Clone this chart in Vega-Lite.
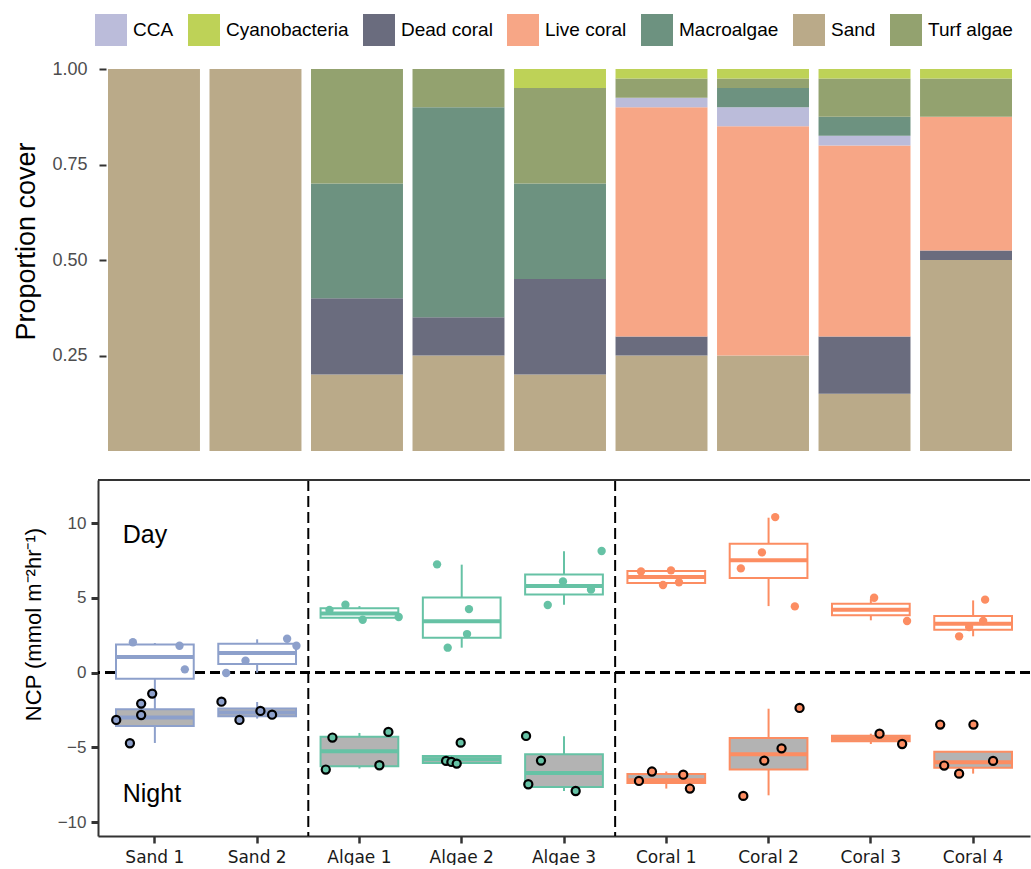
{
  "$schema": "https://vega.github.io/schema/vega-lite/v6.json",
  "background": "white",
  "padding": {"left": 12, "top": 14, "right": 0, "bottom": 0},
  "config": {
    "view": {"stroke": null},
    "axis": {"grid": false},
    "concat": {"spacing": 28}
  },
  "datasets": {
    "cover": [
      {"site": "Sand 1", "cover": "Sand", "p": 1.0},
      {"site": "Sand 2", "cover": "Sand", "p": 1.0},
      {"site": "Algae 1", "cover": "Sand", "p": 0.2},
      {"site": "Algae 1", "cover": "Dead coral", "p": 0.2},
      {"site": "Algae 1", "cover": "Macroalgae", "p": 0.3},
      {"site": "Algae 1", "cover": "Turf algae", "p": 0.3},
      {"site": "Algae 2", "cover": "Sand", "p": 0.25},
      {"site": "Algae 2", "cover": "Dead coral", "p": 0.1},
      {"site": "Algae 2", "cover": "Macroalgae", "p": 0.55},
      {"site": "Algae 2", "cover": "Turf algae", "p": 0.1},
      {"site": "Algae 3", "cover": "Sand", "p": 0.2},
      {"site": "Algae 3", "cover": "Dead coral", "p": 0.25},
      {"site": "Algae 3", "cover": "Macroalgae", "p": 0.25},
      {"site": "Algae 3", "cover": "Turf algae", "p": 0.25},
      {"site": "Algae 3", "cover": "Cyanobacteria", "p": 0.05},
      {"site": "Coral 1", "cover": "Sand", "p": 0.25},
      {"site": "Coral 1", "cover": "Dead coral", "p": 0.05},
      {"site": "Coral 1", "cover": "Live coral", "p": 0.6},
      {"site": "Coral 1", "cover": "CCA", "p": 0.025},
      {"site": "Coral 1", "cover": "Turf algae", "p": 0.05},
      {"site": "Coral 1", "cover": "Cyanobacteria", "p": 0.025},
      {"site": "Coral 2", "cover": "Sand", "p": 0.25},
      {"site": "Coral 2", "cover": "Live coral", "p": 0.6},
      {"site": "Coral 2", "cover": "CCA", "p": 0.05},
      {"site": "Coral 2", "cover": "Macroalgae", "p": 0.05},
      {"site": "Coral 2", "cover": "Turf algae", "p": 0.025},
      {"site": "Coral 2", "cover": "Cyanobacteria", "p": 0.025},
      {"site": "Coral 3", "cover": "Sand", "p": 0.15},
      {"site": "Coral 3", "cover": "Dead coral", "p": 0.15},
      {"site": "Coral 3", "cover": "Live coral", "p": 0.5},
      {"site": "Coral 3", "cover": "CCA", "p": 0.025},
      {"site": "Coral 3", "cover": "Macroalgae", "p": 0.05},
      {"site": "Coral 3", "cover": "Turf algae", "p": 0.1},
      {"site": "Coral 3", "cover": "Cyanobacteria", "p": 0.025},
      {"site": "Coral 4", "cover": "Sand", "p": 0.5},
      {"site": "Coral 4", "cover": "Dead coral", "p": 0.025},
      {"site": "Coral 4", "cover": "Live coral", "p": 0.35},
      {"site": "Coral 4", "cover": "Turf algae", "p": 0.1},
      {"site": "Coral 4", "cover": "Cyanobacteria", "p": 0.025}
    ],
    "boxes": [
      {"site": "Sand 1", "group": "Sand", "period": "Day", "lo": -1.45, "q1": -0.4, "med": 1.05, "q3": 1.89, "hi": 1.98},
      {"site": "Sand 1", "group": "Sand", "period": "Night", "lo": -4.7, "q1": -3.56, "med": -3.0, "q3": -2.45, "hi": -1.45},
      {"site": "Sand 2", "group": "Sand", "period": "Day", "lo": 0.0, "q1": 0.58, "med": 1.31, "q3": 1.94, "hi": 2.23},
      {"site": "Sand 2", "group": "Sand", "period": "Night", "lo": -3.07, "q1": -2.92, "med": -2.67, "q3": -2.4, "hi": -1.96},
      {"site": "Algae 1", "group": "Algae", "period": "Day", "lo": 3.54, "q1": 3.67, "med": 3.96, "q3": 4.3, "hi": 4.45},
      {"site": "Algae 1", "group": "Algae", "period": "Night", "lo": -6.41, "q1": -6.26, "med": -5.26, "q3": -4.28, "hi": -4.03},
      {"site": "Algae 2", "group": "Algae", "period": "Day", "lo": 1.67, "q1": 2.34, "med": 3.43, "q3": 5.03, "hi": 7.22},
      {"site": "Algae 2", "group": "Algae", "period": "Night", "lo": -6.08, "q1": -6.04, "med": -5.79, "q3": -5.57, "hi": -5.57},
      {"site": "Algae 3", "group": "Algae", "period": "Day", "lo": 4.54, "q1": 5.23, "med": 5.79, "q3": 6.57, "hi": 8.11},
      {"site": "Algae 3", "group": "Algae", "period": "Night", "lo": -7.91, "q1": -7.64, "med": -6.7, "q3": -5.46, "hi": -4.25},
      {"site": "Coral 1", "group": "Coral", "period": "Day", "lo": 5.86, "q1": 5.99, "med": 6.39, "q3": 6.79, "hi": 6.84},
      {"site": "Coral 1", "group": "Coral", "period": "Night", "lo": -7.75, "q1": -7.37, "med": -7.19, "q3": -6.77, "hi": -6.61},
      {"site": "Coral 2", "group": "Coral", "period": "Day", "lo": 4.45, "q1": 6.33, "med": 7.51, "q3": 8.62, "hi": 10.36},
      {"site": "Coral 2", "group": "Coral", "period": "Night", "lo": -8.2, "q1": -6.48, "med": -5.46, "q3": -4.37, "hi": -2.41},
      {"site": "Coral 3", "group": "Coral", "period": "Day", "lo": 3.5, "q1": 3.83, "med": 4.21, "q3": 4.61, "hi": 4.95},
      {"site": "Coral 3", "group": "Coral", "period": "Night", "lo": -4.77, "q1": -4.59, "med": -4.41, "q3": -4.21, "hi": -4.08},
      {"site": "Coral 4", "group": "Coral", "period": "Day", "lo": 2.43, "q1": 2.87, "med": 3.27, "q3": 3.78, "hi": 4.83},
      {"site": "Coral 4", "group": "Coral", "period": "Night", "lo": -6.75, "q1": -6.35, "med": -5.99, "q3": -5.28, "hi": -5.28}
    ],
    "ncp": [
      {"site": "Sand 1", "group": "Sand", "period": "Day", "ncp": 2.03, "jitter": -0.215},
      {"site": "Sand 1", "group": "Sand", "period": "Day", "ncp": 1.8, "jitter": 0.241},
      {"site": "Sand 1", "group": "Sand", "period": "Day", "ncp": 0.22, "jitter": 0.293},
      {"site": "Sand 1", "group": "Sand", "period": "Night", "ncp": -3.16, "jitter": -0.378},
      {"site": "Sand 1", "group": "Sand", "period": "Night", "ncp": -4.72, "jitter": -0.244},
      {"site": "Sand 1", "group": "Sand", "period": "Night", "ncp": -2.07, "jitter": -0.134},
      {"site": "Sand 1", "group": "Sand", "period": "Night", "ncp": -2.83, "jitter": -0.134},
      {"site": "Sand 1", "group": "Sand", "period": "Night", "ncp": -1.4, "jitter": -0.026},
      {"site": "Sand 2", "group": "Sand", "period": "Day", "ncp": 2.27, "jitter": 0.293},
      {"site": "Sand 2", "group": "Sand", "period": "Day", "ncp": 1.8, "jitter": 0.384},
      {"site": "Sand 2", "group": "Sand", "period": "Day", "ncp": 0.8, "jitter": -0.114},
      {"site": "Sand 2", "group": "Sand", "period": "Day", "ncp": -0.02, "jitter": -0.303},
      {"site": "Sand 2", "group": "Sand", "period": "Night", "ncp": -1.94, "jitter": -0.349},
      {"site": "Sand 2", "group": "Sand", "period": "Night", "ncp": -3.16, "jitter": -0.173},
      {"site": "Sand 2", "group": "Sand", "period": "Night", "ncp": -2.56, "jitter": 0.032},
      {"site": "Sand 2", "group": "Sand", "period": "Night", "ncp": -2.81, "jitter": 0.146},
      {"site": "Algae 1", "group": "Algae", "period": "Day", "ncp": 4.19, "jitter": -0.293},
      {"site": "Algae 1", "group": "Algae", "period": "Day", "ncp": 4.54, "jitter": -0.137},
      {"site": "Algae 1", "group": "Algae", "period": "Day", "ncp": 3.54, "jitter": 0.032},
      {"site": "Algae 1", "group": "Algae", "period": "Day", "ncp": 3.72, "jitter": 0.384},
      {"site": "Algae 1", "group": "Algae", "period": "Night", "ncp": -4.34, "jitter": -0.264},
      {"site": "Algae 1", "group": "Algae", "period": "Night", "ncp": -3.96, "jitter": 0.283},
      {"site": "Algae 1", "group": "Algae", "period": "Night", "ncp": -6.48, "jitter": -0.329},
      {"site": "Algae 1", "group": "Algae", "period": "Night", "ncp": -6.19, "jitter": 0.195},
      {"site": "Algae 2", "group": "Algae", "period": "Day", "ncp": 7.24, "jitter": -0.241},
      {"site": "Algae 2", "group": "Algae", "period": "Day", "ncp": 4.25, "jitter": 0.071},
      {"site": "Algae 2", "group": "Algae", "period": "Day", "ncp": 2.58, "jitter": 0.052},
      {"site": "Algae 2", "group": "Algae", "period": "Day", "ncp": 1.67, "jitter": -0.137},
      {"site": "Algae 2", "group": "Algae", "period": "Night", "ncp": -4.68, "jitter": -0.01},
      {"site": "Algae 2", "group": "Algae", "period": "Night", "ncp": -5.9, "jitter": -0.153},
      {"site": "Algae 2", "group": "Algae", "period": "Night", "ncp": -5.97, "jitter": -0.101},
      {"site": "Algae 2", "group": "Algae", "period": "Night", "ncp": -6.08, "jitter": -0.049},
      {"site": "Algae 3", "group": "Algae", "period": "Day", "ncp": 8.13, "jitter": 0.368},
      {"site": "Algae 3", "group": "Algae", "period": "Day", "ncp": 6.1, "jitter": -0.01},
      {"site": "Algae 3", "group": "Algae", "period": "Day", "ncp": 5.55, "jitter": 0.264},
      {"site": "Algae 3", "group": "Algae", "period": "Day", "ncp": 4.52, "jitter": -0.159},
      {"site": "Algae 3", "group": "Algae", "period": "Night", "ncp": -4.23, "jitter": -0.371},
      {"site": "Algae 3", "group": "Algae", "period": "Night", "ncp": -5.88, "jitter": -0.225},
      {"site": "Algae 3", "group": "Algae", "period": "Night", "ncp": -7.46, "jitter": -0.349},
      {"site": "Algae 3", "group": "Algae", "period": "Night", "ncp": -7.91, "jitter": 0.114},
      {"site": "Coral 1", "group": "Coral", "period": "Day", "ncp": 6.77, "jitter": -0.247},
      {"site": "Coral 1", "group": "Coral", "period": "Day", "ncp": 6.84, "jitter": 0.046},
      {"site": "Coral 1", "group": "Coral", "period": "Day", "ncp": 5.86, "jitter": -0.032},
      {"site": "Coral 1", "group": "Coral", "period": "Day", "ncp": 6.04, "jitter": 0.124},
      {"site": "Coral 1", "group": "Coral", "period": "Night", "ncp": -7.24, "jitter": -0.267},
      {"site": "Coral 1", "group": "Coral", "period": "Night", "ncp": -6.61, "jitter": -0.14},
      {"site": "Coral 1", "group": "Coral", "period": "Night", "ncp": -6.82, "jitter": 0.166},
      {"site": "Coral 1", "group": "Coral", "period": "Night", "ncp": -7.75, "jitter": 0.231},
      {"site": "Coral 2", "group": "Coral", "period": "Day", "ncp": 10.4, "jitter": 0.065},
      {"site": "Coral 2", "group": "Coral", "period": "Day", "ncp": 8.04, "jitter": -0.065},
      {"site": "Coral 2", "group": "Coral", "period": "Day", "ncp": 6.97, "jitter": -0.271},
      {"site": "Coral 2", "group": "Coral", "period": "Day", "ncp": 4.43, "jitter": 0.257},
      {"site": "Coral 2", "group": "Coral", "period": "Night", "ncp": -2.36, "jitter": 0.303},
      {"site": "Coral 2", "group": "Coral", "period": "Night", "ncp": -5.06, "jitter": 0.127},
      {"site": "Coral 2", "group": "Coral", "period": "Night", "ncp": -5.88, "jitter": -0.042},
      {"site": "Coral 2", "group": "Coral", "period": "Night", "ncp": -8.24, "jitter": -0.247},
      {"site": "Coral 3", "group": "Coral", "period": "Day", "ncp": 5.01, "jitter": 0.032},
      {"site": "Coral 3", "group": "Coral", "period": "Day", "ncp": 3.45, "jitter": 0.354},
      {"site": "Coral 3", "group": "Coral", "period": "Night", "ncp": -4.08, "jitter": 0.085},
      {"site": "Coral 3", "group": "Coral", "period": "Night", "ncp": -4.77, "jitter": 0.306},
      {"site": "Coral 4", "group": "Coral", "period": "Day", "ncp": 4.88, "jitter": 0.117},
      {"site": "Coral 4", "group": "Coral", "period": "Day", "ncp": 3.45, "jitter": 0.098},
      {"site": "Coral 4", "group": "Coral", "period": "Day", "ncp": 3.05, "jitter": -0.039},
      {"site": "Coral 4", "group": "Coral", "period": "Day", "ncp": 2.43, "jitter": -0.137},
      {"site": "Coral 4", "group": "Coral", "period": "Night", "ncp": -3.47, "jitter": -0.322},
      {"site": "Coral 4", "group": "Coral", "period": "Night", "ncp": -3.47, "jitter": 0.003},
      {"site": "Coral 4", "group": "Coral", "period": "Night", "ncp": -6.21, "jitter": -0.283},
      {"site": "Coral 4", "group": "Coral", "period": "Night", "ncp": -6.75, "jitter": -0.137},
      {"site": "Coral 4", "group": "Coral", "period": "Night", "ncp": -5.9, "jitter": 0.195}
    ],
    "separators": [
      {"site": "Algae 1"},
      {"site": "Coral 1"}
    ],
    "labels": [
      {"site": "Sand 1", "ncp": 9.2, "text": "Day"},
      {"site": "Sand 1", "ncp": -8.1, "text": "Night"}
    ]
  },
  "resolve": {"scale": {"x": "independent", "y": "independent", "color": "independent", "fill": "independent", "stroke": "independent"}},
  "vconcat": [
    {
      "width": 924,
      "height": 382,
      "data": {"name": "cover"},
      "transform": [
        {"calculate": "indexof(['Sand', 'Dead coral', 'Live coral', 'CCA', 'Macroalgae', 'Turf algae', 'Cyanobacteria'], datum.cover)", "as": "stack_rank"}
      ],
      "mark": {"type": "bar"},
      "encoding": {
        "x": {
          "field": "site", "type": "nominal",
          "sort": ["Sand 1", "Sand 2", "Algae 1", "Algae 2", "Algae 3", "Coral 1", "Coral 2", "Coral 3", "Coral 4"],
          "scale": {"paddingInner": 0.094, "paddingOuter": 0.0985},
          "axis": null
        },
        "y": {
          "field": "p", "type": "quantitative", "stack": "zero",
          "scale": {"domain": [0, 1], "nice": false},
          "axis": {
            "title": "Proportion cover",
            "titleFont": "Liberation Sans", "titleFontSize": 27, "titleFontWeight": "normal", "titleColor": "black",
            "titlePadding": 11, "titleY": 172,
            "values": [0.25, 0.5, 0.75, 1], "format": ".2f",
            "labelFont": "Liberation Sans", "labelFontSize": 18, "labelColor": "#4D4D4D", "labelPadding": 12,
            "domain": false, "ticks": true, "tickSize": 7, "tickWidth": 2, "tickColor": "#333333",
            "offset": -8
          }
        },
        "color": {
          "field": "cover", "type": "nominal",
          "scale": {
            "domain": ["CCA", "Cyanobacteria", "Dead coral", "Live coral", "Macroalgae", "Sand", "Turf algae"],
            "range": ["#BBBCDA", "#BED257", "#6A6C7E", "#F7A686", "#6D9280", "#BAAA89", "#93A26F"]
          },
          "legend": {
            "title": null, "orient": "none", "direction": "horizontal", "columns": 7,
            "legendX": -3, "legendY": -55,
            "symbolType": "square", "symbolSize": 1024, "symbolStrokeWidth": 0, "symbolOpacity": 1,
            "labelFont": "Liberation Sans", "labelFontSize": 19, "labelColor": "black",
            "labelOffset": 6, "columnPadding": 14
          }
        },
        "order": {"field": "stack_rank", "type": "quantitative", "sort": "ascending"}
      }
    },
    {
      "width": 932,
      "height": 356,
      "resolve": {"scale": {"x": "independent"}, "axis": {"x": "independent"}},
      "layer": [
        {
          "encoding": {
            "x": {
              "field": "site", "type": "nominal",
              "sort": ["Sand 1", "Sand 2", "Algae 1", "Algae 2", "Algae 3", "Coral 1", "Coral 2", "Coral 3", "Coral 4"],
              "scale": {"domain": ["Sand 1", "Sand 2", "Algae 1", "Algae 2", "Algae 3", "Coral 1", "Coral 2", "Coral 3", "Coral 4"], "paddingInner": 0, "paddingOuter": 0.056},
              "axis": {
                "title": null, "labelAngle": 0,
                "labelFont": "DejaVu Sans", "labelFontSize": 17, "labelColor": "#1A1A1A", "labelPadding": 6,
                "domainColor": "#333333", "domainWidth": 2,
                "tickColor": "#333333", "tickWidth": 2.5, "tickSize": 7
              }
            }
          },
          "layer": [
            {
              "data": {"name": "separators"},
              "mark": {"type": "rule", "color": "black", "strokeWidth": 2, "strokeDash": [11, 5]},
              "encoding": {"x": {"field": "site", "type": "nominal", "bandPosition": 0}}
            },
            {
              "data": {"name": "boxes"},
              "mark": {"type": "rule", "color": "black", "strokeWidth": 2, "strokeDash": [10, 5]},
              "encoding": {"x": null, "y": {"datum": 0, "type": "quantitative"}}
            },
            {
              "data": {"name": "boxes"},
              "mark": {"type": "rule", "color": "#333333", "strokeWidth": 2},
              "encoding": {"x": null, "y": {"datum": 12.88, "type": "quantitative"}}
            },
            {
              "data": {"name": "boxes"},
              "mark": {"type": "rule", "strokeWidth": 2},
              "encoding": {
                "y": {
                  "field": "lo", "type": "quantitative",
                  "scale": {"domain": [-10.92, 12.88], "nice": false, "zero": false},
                  "axis": {
                    "title": "NCP (mmol m⁻²hr⁻¹)",
                    "titleFont": "Liberation Sans", "titleFontSize": 22, "titleFontWeight": "normal", "titleColor": "black",
                    "titlePadding": 12, "titleY": 144,
                    "values": [-10, -5, 0, 5, 10],
                    "labelFont": "Liberation Sans", "labelFontSize": 17, "labelColor": "#4D4D4D", "labelPadding": 5,
                    "domainColor": "#333333", "domainWidth": 2,
                    "tickColor": "#333333", "tickWidth": 3, "tickSize": 7
                  }
                },
                "y2": {"field": "hi"},
                "color": {
                  "field": "group", "type": "nominal",
                  "scale": {"domain": ["Sand", "Algae", "Coral"], "range": ["#8DA0CB", "#66C2A5", "#FC8D62"]},
                  "legend": null
                }
              }
            },
            {
              "data": {"name": "boxes"},
              "transform": [{"filter": "datum.period === 'Day'"}],
              "mark": {"type": "bar", "fill": "white", "strokeWidth": 2, "width": {"band": 0.76}},
              "encoding": {
                "y": {"field": "q1", "type": "quantitative"},
                "y2": {"field": "q3"},
                "stroke": {
                  "field": "group", "type": "nominal",
                  "scale": {"domain": ["Sand", "Algae", "Coral"], "range": ["#8DA0CB", "#66C2A5", "#FC8D62"]},
                  "legend": null
                }
              }
            },
            {
              "data": {"name": "boxes"},
              "transform": [{"filter": "datum.period === 'Night'"}],
              "mark": {"type": "bar", "fill": "#B3B3B3", "strokeWidth": 2, "width": {"band": 0.76}},
              "encoding": {
                "y": {"field": "q1", "type": "quantitative"},
                "y2": {"field": "q3"},
                "stroke": {
                  "field": "group", "type": "nominal",
                  "scale": {"domain": ["Sand", "Algae", "Coral"], "range": ["#8DA0CB", "#66C2A5", "#FC8D62"]},
                  "legend": null
                }
              }
            },
            {
              "data": {"name": "boxes"},
              "mark": {"type": "tick", "orient": "horizontal", "size": 78, "thickness": 4, "opacity": 1},
              "encoding": {
                "y": {"field": "med", "type": "quantitative"},
                "color": {
                  "field": "group", "type": "nominal",
                  "scale": {"domain": ["Sand", "Algae", "Coral"], "range": ["#8DA0CB", "#66C2A5", "#FC8D62"]},
                  "legend": null
                }
              }
            },
            {
              "data": {"name": "labels"},
              "mark": {"type": "text", "align": "left", "baseline": "middle", "dx": 19, "font": "Liberation Sans", "fontSize": 25, "color": "black"},
              "encoding": {
                "x": {"field": "site", "type": "nominal", "bandPosition": 0},
                "y": {"field": "ncp", "type": "quantitative"},
                "text": {"field": "text"}
              }
            }
          ]
        },
        {
          "data": {"name": "ncp"},
          "transform": [
            {"calculate": "indexof(['Sand 1', 'Sand 2', 'Algae 1', 'Algae 2', 'Algae 3', 'Coral 1', 'Coral 2', 'Coral 3', 'Coral 4'], datum.site) + 1 + datum.jitter", "as": "xpos"}
          ],
          "encoding": {
            "x": {"field": "xpos", "type": "quantitative", "scale": {"domain": [0.444, 9.556], "nice": false, "zero": false}, "axis": null},
            "y": {"field": "ncp", "type": "quantitative"}
          },
          "layer": [
            {
              "transform": [{"filter": "datum.period === 'Day'"}],
              "mark": {"type": "circle", "size": 70, "opacity": 1},
              "encoding": {
                "color": {
                  "field": "group", "type": "nominal",
                  "scale": {"domain": ["Sand", "Algae", "Coral"], "range": ["#8DA0CB", "#66C2A5", "#FC8D62"]},
                  "legend": null
                }
              }
            },
            {
              "transform": [{"filter": "datum.period === 'Night'"}],
              "mark": {"type": "point", "shape": "circle", "filled": true, "size": 66, "opacity": 1, "stroke": "black", "strokeWidth": 2.2},
              "encoding": {
                "fill": {
                  "field": "group", "type": "nominal",
                  "scale": {"domain": ["Sand", "Algae", "Coral"], "range": ["#8DA0CB", "#66C2A5", "#FC8D62"]},
                  "legend": null
                }
              }
            }
          ]
        }
      ]
    }
  ]
}
